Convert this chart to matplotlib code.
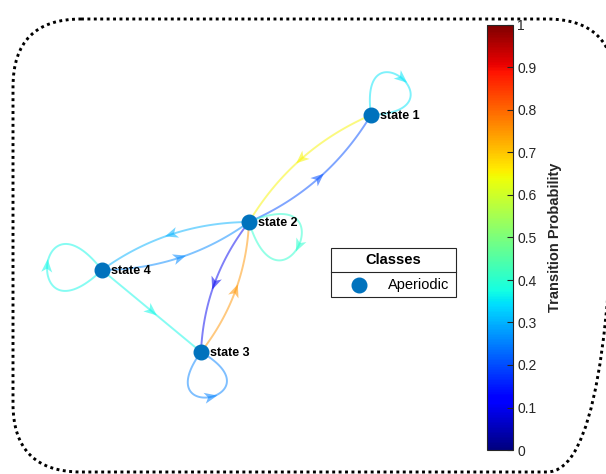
import numpy as np
import matplotlib.pyplot as plt
from matplotlib import cm, colors
from matplotlib.patches import Polygon, FancyBboxPatch, Rectangle

plt.rcParams['font.family'] = ['Liberation Sans', 'DejaVu Sans']

# Markov chain: state names and transition matrix (row = from, col = to)
states = ['state 1', 'state 2', 'state 3', 'state 4']
P = np.array([
    [0.35, 0.65, 0.00, 0.00],
    [0.20, 0.40, 0.10, 0.30],
    [0.00, 0.75, 0.25, 0.00],
    [0.00, 0.26, 0.37, 0.37],
])

# node layout (screen units, y grows downward)
node_x = [371, 249, 201, 102]
node_y = [115, 222, 352, 270]

# self-loop orientation (deg), reach and turning sense
loop_angle = [-50, 25, 78, 184]
loop_reach = [48, 55, 46, 55]
loop_sense = [1, 1, -1, 1]

node_color = (0, 0.447, 0.741)
txt_color = '#262626'

cmap = plt.get_cmap('jet')
norm = colors.Normalize(0, 1)

fig = plt.figure(figsize=(6.06, 4.74), dpi=100)
ax = fig.add_axes([0, 0, 1, 1])
ax.set_xlim(0, 606)
ax.set_ylim(474, 0)
ax.axis('off')


def arrowhead(pos, d, c):
    d = d / np.linalg.norm(d)
    n = np.array([-d[1], d[0]])
    tip = pos + d * 7
    back = pos - d * 6
    pts = [tip, back + n * 5.5, pos - d * 2.5, back - n * 5.5]
    ax.add_patch(Polygon(pts, closed=True, fc=c, ec='none', alpha=0.55, zorder=3))


t = np.linspace(0, 1, 80)[:, None]
for i in range(4):
    for j in range(4):
        p = P[i, j]
        if p <= 0:
            continue
        c = cmap(norm(p))
        p0 = np.array([node_x[i], node_y[i]], float)
        if i == j:
            a = np.radians(loop_angle[i])
            al = np.radians(48) * loop_sense[i]
            L = loop_reach[i] / 0.75 / np.cos(np.radians(48))
            c1 = p0 + L * np.array([np.cos(a - al), np.sin(a - al)])
            c2 = p0 + L * np.array([np.cos(a + al), np.sin(a + al)])
            B = ((1 - t) ** 3) * p0 + 3 * t * (1 - t) ** 2 * c1 + 3 * t ** 2 * (1 - t) * c2 + t ** 3 * p0
            mid = 0.125 * p0 + 0.375 * c1 + 0.375 * c2 + 0.125 * p0
            tang = c2 - c1
        else:
            p1 = np.array([node_x[j], node_y[j]], float)
            v = p1 - p0
            L = np.linalg.norm(v)
            if P[j, i] > 0:
                nrm = np.array([-v[1], v[0]]) / L
                ctrl = (p0 + p1) / 2 + nrm * 0.16 * L
            else:
                ctrl = (p0 + p1) / 2
            B = (1 - t) ** 2 * p0 + 2 * t * (1 - t) * ctrl + t ** 2 * p1
            mid = 0.25 * p0 + 0.5 * ctrl + 0.25 * p1
            tang = v
        ax.plot(B[:, 0], B[:, 1], color=c, lw=1.4, alpha=0.5, zorder=2,
                solid_capstyle='round')
        arrowhead(mid, tang, c)

ax.plot(node_x, node_y, 'o', ms=10.5, color=node_color, mec=node_color, zorder=4)
for name, x, y in zip(states, node_x, node_y):
    ax.text(x + 9, y + 1, name, fontsize=9, fontweight='bold', va='center',
            ha='left', color='black', zorder=5)

# legend box with title row
ax.add_patch(Rectangle((331, 248), 125, 49, fill=False, ec=txt_color, lw=0.8))
ax.plot([331, 456], [272, 272], color=txt_color, lw=0.8)
ax.text(393.5, 260.5, 'Classes', ha='center', va='center', fontsize=10.5,
        fontweight='bold', color='black')
ax.plot(359, 285, 'o', ms=10.5, color=node_color)
ax.text(388, 285.5, 'Aperiodic', ha='left', va='center', fontsize=10.5,
        color='black')

# dotted rounded frame
ax.add_patch(FancyBboxPatch((13, 19), 602, 453,
                            boxstyle='round,pad=0,rounding_size=68',
                            fill=False, ec='black', lw=2.1,
                            linestyle=(0, (1, 1.2)), clip_on=False, zorder=1))

# colorbar
cax = fig.add_axes([487 / 606, 24 / 474, 26 / 606, 425 / 474])
sm = cm.ScalarMappable(norm=norm, cmap=cmap)
cb = fig.colorbar(sm, cax=cax, ticks=np.arange(0, 1.01, 0.1))
cb.ax.set_yticklabels(['0', '0.1', '0.2', '0.3', '0.4', '0.5', '0.6', '0.7',
                       '0.8', '0.9', '1'])
cb.ax.tick_params(direction='in', length=4, width=0.8, colors=txt_color,
                  labelsize=10, pad=3)
cb.outline.set_edgecolor(txt_color)
cb.outline.set_linewidth(0.8)
cb.set_label('Transition Probability', fontsize=10.5, fontweight='bold',
             color=txt_color, labelpad=8)

fig.savefig('out.png', dpi=100)
